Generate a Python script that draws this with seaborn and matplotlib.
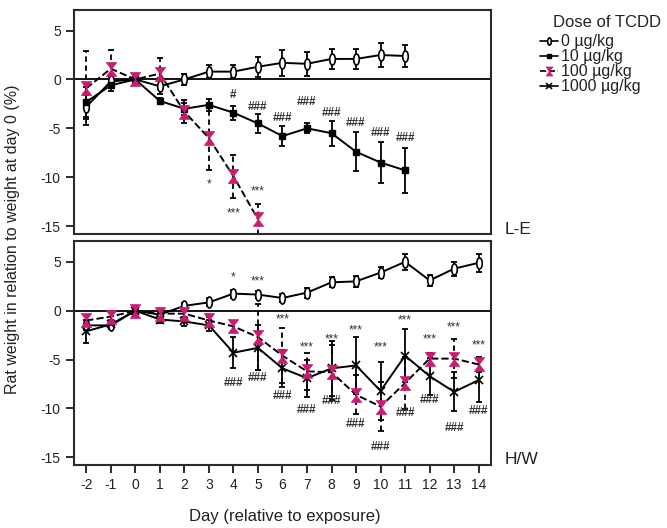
"""
Rat body weight change after a single TCDD dose, two strains (L-E and H/W).
Writes out.png.
"""

import numpy as np
import seaborn as sns
import matplotlib.pyplot as plt
from matplotlib.lines import Line2D
from matplotlib.path import Path
from matplotlib.transforms import Affine2D


# ---------------------------------------------------------------------
# Data (mean % change vs day 0, with SD)
# ---------------------------------------------------------------------

day_ticks = list(range(-2, 15))

# L-E strain
le_days_0 = list(range(-2, 12))
le_0 = [-2.8, -0.2, 0.0, -0.7, 0.0, 0.8, 0.8, 1.3, 1.7, 1.6, 2.1, 2.1, 2.5, 2.4]
le_0_sd = [1.2, 0.5, 0.0, 0.8, 0.6, 0.7, 0.7, 1.0, 1.3, 1.2, 1.0, 1.0, 1.2, 1.1]

le_days_10 = list(range(-2, 12))
le_10 = [-2.3, -0.6, 0.0, -2.2, -3.0, -2.6, -3.4, -4.5, -5.8, -5.0, -5.5, -7.4, -8.5, -9.3]
le_10_sd = [1.5, 0.6, 0.0, 0.3, 0.6, 0.6, 0.7, 1.0, 1.0, 0.5, 1.3, 2.0, 2.1, 2.3]

le_days_100 = list(range(-2, 6))
le_100 = [-0.9, 1.1, 0.0, 0.6, -3.3, -6.0, -9.9, -14.3]
le_100_sd = [3.8, 1.9, 0.0, 1.6, 1.2, 3.3, 2.2, 1.6]

# H/W strain
hw_days = list(range(-2, 15))
hw_0 = [-1.5, -1.5, 0.0, -0.4, 0.5, 0.85, 1.75, 1.65, 1.3, 1.85, 2.9, 3.0, 3.9, 5.0, 3.1, 4.3, 4.9]
hw_0_sd = [0.5, 0.4, 0.0, 0.4, 0.3, 0.4, 0.4, 0.4, 0.4, 0.5, 0.5, 0.6, 0.6, 0.8, 0.6, 0.7, 0.9]

hw_100 = [-1.0, -0.6, 0.0, -0.3, -0.3, -1.0, -1.6, -2.7, -4.6, -6.2, -6.3, -8.6, -9.8, -7.4, -4.9, -4.9, -5.5]
hw_100_sd = [0.6, 0.5, 0.0, 0.5, 0.5, 0.4, 0.5, 3.4, 2.8, 1.9, 2.8, 2.0, 2.5, 2.7, 0.6, 2.0, 0.8]

hw_1000 = [-2.1, -1.4, 0.0, -0.9, -1.1, -1.5, -4.3, -3.8, -5.9, -6.9, -5.9, -5.6, -8.2, -4.6, -6.7, -8.3, -7.1]
hw_1000_sd = [1.2, 0.5, 0.0, 0.4, 0.5, 0.6, 1.6, 2.3, 1.9, 1.9, 2.8, 2.9, 3.0, 2.7, 1.9, 2.0, 2.2]

# significance marks: (day, y, text)
le_marks = [
    (4, -1.6, "#"), (5, -2.8, "###"), (6, -3.9, "###"), (7, -2.3, "###"),
    (8, -3.4, "###"), (9, -4.5, "###"), (10, -5.5, "###"), (11, -6.0, "###"),
    (3, -10.7, "*"), (4, -13.7, "***"), (5, -11.5, "***"),
]
hw_marks = [
    (4, 3.4, "*"), (5, 3.0, "***"), (6, -0.85, "***"), (7, -3.8, "***"),
    (8, -2.9, "***"), (9, -2.0, "***"), (10, -3.8, "***"), (11, -0.95, "***"),
    (12, -2.9, "***"), (13, -1.7, "***"), (14, -3.6, "***"),
    (4, -7.4, "###"), (5, -6.9, "###"), (6, -8.7, "###"), (7, -10.2, "###"),
    (8, -9.2, "###"), (9, -11.6, "###"), (10, -13.9, "###"), (11, -10.5, "###"),
    (12, -9.1, "###"), (13, -12.0, "###"), (14, -10.3, "###"),
]

legend_labels = ["0 \u00b5g/kg", "10 \u00b5g/kg", "100 \u00b5g/kg", "1000 \u00b5g/kg"]

# ---------------------------------------------------------------------
# Style
# ---------------------------------------------------------------------

PINK = "#cc1a72"
EDGE = "#2b2b2b"
TEXT = "#222222"

OVAL = Path.unit_circle().transformed(Affine2D().scale(0.5, 1.0))
HOURGLASS = Path(
    [(-0.75, 1), (0.75, 1), (0, 0), (0.75, -1), (-0.75, -1), (0, 0), (-0.75, 1)],
)

sns.set_theme(style="ticks")
plt.rcParams["font.family"] = ["Liberation Sans", "DejaVu Sans"]


def draw_series(ax, days, values, sd, style):
    """Line + markers through seaborn, SD bars through errorbar."""
    sns.lineplot(
        x=days,
        y=values,
        ax=ax,
        color="black",
        linewidth=1.4,
        linestyle=style["ls"],
        marker=style["marker"],
        markersize=style["ms"],
        markerfacecolor=style["mfc"],
        markeredgecolor=style["mec"],
        markeredgewidth=style["mew"],
        zorder=3,
    )
    eb = ax.errorbar(
        days,
        values,
        yerr=sd,
        fmt="none",
        ecolor="black",
        elinewidth=1.3,
        capsize=2,
        capthick=1.3,
        zorder=2,
    )
    if style["ls"] == "--":
        eb[2][0].set_linestyle((0, (3, 2)))


STYLES = {
    "0": dict(ls="-", marker=OVAL, ms=8, mfc="white", mec="black", mew=1.2),
    "10": dict(ls="-", marker="s", ms=5, mfc="black", mec="black", mew=1),
    "100": dict(ls="--", marker=HOURGLASS, ms=10, mfc=PINK, mec=PINK, mew=0.5),
    "1000": dict(ls="-", marker="x", ms=6, mfc="black", mec="black", mew=1.2),
}


def style_axes(ax, show_x):
    ax.axhline(0, color="black", linewidth=1.3, zorder=1)
    ax.set_xlim(-2.5, 14.5)
    ax.set_ylim(-15.8, 7.1)
    ax.set_yticks([-15, -10, -5, 0, 5])
    ax.set_yticklabels(["-15", "-10", "-5", "0", "5"])
    for side in ax.spines.values():
        side.set_visible(True)
        side.set_linewidth(1.5)
        side.set_color(EDGE)
    ax.tick_params(length=6, width=1.4, color=EDGE, labelsize=10, labelcolor=TEXT)
    if show_x:
        ax.set_xticks(day_ticks)
        ax.set_xticklabels([str(d) for d in day_ticks])
    else:
        ax.set_xticks([])
    ax.set_xlabel("")
    ax.set_ylabel("")


def add_marks(ax, marks):
    for day, y, txt in marks:
        ax.text(day, y, txt, ha="center", va="center", fontsize=8.5,
                color="#333", fontweight="bold" if "#" in txt else "normal")


# ---------------------------------------------------------------------
# Figure
# ---------------------------------------------------------------------

fig = plt.figure(figsize=(6.67, 5.28), dpi=100)
ax_top = fig.add_axes([0.111, 0.557, 0.625, 0.424])
ax_bot = fig.add_axes([0.111, 0.119, 0.625, 0.424])

draw_series(ax_top, le_days_0, le_0, le_0_sd, STYLES["0"])
draw_series(ax_top, le_days_10, le_10, le_10_sd, STYLES["10"])
draw_series(ax_top, le_days_100, le_100, le_100_sd, STYLES["100"])
add_marks(ax_top, le_marks)
style_axes(ax_top, show_x=False)

draw_series(ax_bot, hw_days, hw_0, hw_0_sd, STYLES["0"])
draw_series(ax_bot, hw_days, hw_1000, hw_1000_sd, STYLES["1000"])
draw_series(ax_bot, hw_days, hw_100, hw_100_sd, STYLES["100"])
add_marks(ax_bot, hw_marks)
style_axes(ax_bot, show_x=True)

fig.text(0.757, 0.566, "L-E", fontsize=12.5, va="center", ha="left", color=TEXT)
fig.text(0.757, 0.129, "H/W", fontsize=12.5, va="center", ha="left", color=TEXT)

fig.text(0.018, 0.547, "Rat weight in relation to weight at day 0 (%)",
         rotation=90, va="center", ha="center", fontsize=11.5, color=TEXT)
fig.text(0.427, 0.021, "Day (relative to exposure)",
         va="center", ha="center", fontsize=12, color=TEXT)

# legend: title as its own text, entries below it
fig.text(0.829, 0.958, "Dose of TCDD", fontsize=12, va="center", ha="left", color=TEXT)

handles = []
for key in ["0", "10", "100", "1000"]:
    st = STYLES[key]
    handles.append(
        Line2D([], [], color="black", linewidth=1.2, linestyle=st["ls"],
               marker=st["marker"], markersize=st["ms"] * 0.65,
               markerfacecolor=st["mfc"], markeredgecolor=st["mec"],
               markeredgewidth=st["mew"])
    )

leg = fig.legend(
    handles,
    legend_labels,
    loc="upper left",
    bbox_to_anchor=(0.81, 0.935),
    frameon=False,
    fontsize=11.5,
    handlelength=1.1,
    handletextpad=0.2,
    labelspacing=0.0,
    borderpad=0.0,
    borderaxespad=0.0,
)
for t in leg.get_texts():
    t.set_color(TEXT)

fig.savefig("out.png", dpi=100)
plt.close(fig)
